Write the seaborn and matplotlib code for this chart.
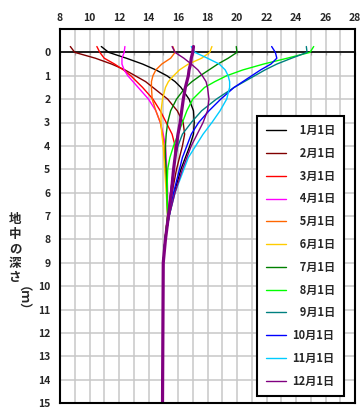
import matplotlib
matplotlib.use("Agg")
import matplotlib.pyplot as plt
import seaborn as sns
import numpy as np
import pandas as pd

# ---- data ----
depths = [-0.25, 0, 0.25, 0.5, 0.75, 1.0, 1.25, 1.5, 2.0, 2.5, 3.0, 3.5, 4.0, 4.5, 5.0, 6.0, 7.0, 8.0, 9.0, 15.0]

labels = ["1月1日", "2月1日", "3月1日", "4月1日", "5月1日", "6月1日",
          "7月1日", "8月1日", "9月1日", "10月1日", "11月1日", "12月1日"]
colors = ["#000000", "#800000", "#FF0000", "#FF00FF", "#FF6600", "#FFCC00",
          "#008000", "#00FF00", "#008080", "#0000FF", "#00CCFF", "#800080"]

jan = [10.8, 11.3, 12.5, 13.6, 14.5, 15.25, 15.8, 16.2, 16.75, 17.05, 17.1, 17.05, 16.8, 16.5, 16.2, 15.75, 15.4, 15.12, 15.0, 14.95]
feb = [8.7, 9.0, 10.4, 11.5, 12.4, 13.1, 13.8, 14.3, 15.3, 15.95, 16.35, 16.45, 16.3, 16.1, 15.9, 15.6, 15.35, 15.12, 15.0, 14.95]
mar = [10.5, 10.7, 11.0, 11.7, 12.3, 12.8, 13.2, 13.6, 14.3, 14.8, 15.2, 15.6, 15.8, 15.8, 15.7, 15.5, 15.3, 15.12, 15.0, 14.95]
apr = [12.4, 12.35, 12.2, 12.2, 12.35, 12.6, 12.95, 13.3, 14.0, 14.5, 14.8, 15.0, 15.15, 15.2, 15.25, 15.3, 15.3, 15.12, 15.0, 14.95]
may = [15.65, 15.8, 15.5, 14.9, 14.5, 14.3, 14.2, 14.2, 14.25, 14.5, 14.8, 14.95, 15.05, 15.1, 15.15, 15.25, 15.3, 15.12, 15.0, 14.95]
jun = [18.3, 18.15, 17.6, 16.7, 16.1, 15.7, 15.35, 15.15, 14.95, 14.85, 14.85, 14.9, 15.0, 15.05, 15.1, 15.2, 15.3, 15.12, 15.0, 14.95]
jul = [19.95, 20.0, 19.4, 18.7, 18.1, 17.5, 16.95, 16.5, 15.9, 15.5, 15.3, 15.2, 15.15, 15.15, 15.2, 15.25, 15.3, 15.12, 15.0, 14.95]
aug = [25.2, 24.95, 23.4, 21.8, 20.4, 19.3, 18.5, 17.8, 17.0, 16.6, 16.3, 16.0, 15.7, 15.45, 15.3, 15.25, 15.3, 15.12, 15.0, 14.95]
sep = [24.7, 24.75, 23.7, 22.7, 21.9, 21.2, 20.5, 19.8, 18.6, 17.6, 16.9, 16.3, 16.0, 15.8, 15.7, 15.5, 15.35, 15.12, 15.0, 14.95]
octo = [22.35, 22.6, 22.7, 22.3, 21.6, 21.0, 20.4, 19.8, 18.9, 18.1, 17.4, 16.9, 16.6, 16.3, 16.1, 15.7, 15.4, 15.12, 15.0, 14.95]
nov = [16.9, 17.15, 18.0, 18.8, 19.2, 19.4, 19.5, 19.5, 19.3, 18.85, 18.3, 17.7, 17.2, 16.7, 16.4, 15.8, 15.4, 15.12, 15.0, 14.95]
dec = [15.6, 15.8, 16.4, 16.9, 17.35, 17.65, 17.9, 18.0, 18.1, 18.0, 17.7, 17.3, 16.9, 16.6, 16.3, 15.8, 15.4, 15.12, 15.0, 14.95]
mean_line = [17.05, 17.0, 16.9, 16.85, 16.75, 16.7, 16.6, 16.5, 16.36, 16.25, 16.15, 16.0, 15.9, 15.8, 15.7, 15.55, 15.35, 15.15, 15.0, 14.95]

series = [jan, feb, mar, apr, may, jun, jul, aug, sep, octo, nov, dec]

x_major = list(range(8, 29, 2))
y_ticks = list(range(0, 16))

# ---- style ----
sns.set_style("white")
plt.rcParams["font.family"] = ["Noto Sans CJK JP", "DejaVu Sans"]

W, H = 361, 407
fig = plt.figure(figsize=(W / 100, H / 100), dpi=100)
ax = fig.add_axes([60 / W, (H - 403) / H, 295 / W, 374 / H])

for vals, lab, col in zip(series, labels, colors):
    df = pd.DataFrame({"temp": vals, "depth": depths})
    sns.lineplot(data=df, x="temp", y="depth", color=col, label=lab,
                 orient="y", sort=False, estimator=None, linewidth=1.0, ax=ax)

dfm = pd.DataFrame({"temp": mean_line, "depth": depths})
sns.lineplot(data=dfm, x="temp", y="depth", color="#800080", label="_nolegend_",
             orient="y", sort=False, estimator=None, linewidth=2.3, ax=ax)

ax.set_xlim(8, 28)
ax.set_ylim(15, -1)
ax.xaxis.tick_top()
ax.set_xticks(x_major)
ax.set_xticks(list(range(8, 29)), minor=True)
ax.set_yticks(y_ticks)
ax.set_yticks(list(range(-1, 16)), minor=True)
ax.set_xticklabels([str(v) for v in x_major], fontsize=7.5, fontweight="bold")
ax.set_yticklabels([str(v) for v in y_ticks], fontsize=7.5, fontweight="bold")
ax.tick_params(axis="both", which="both", length=0)
ax.tick_params(axis="x", pad=4)
ax.tick_params(axis="y", pad=7)
ax.grid(True, which="both", color="#C8C8C8", linewidth=1.1)
ax.set_axisbelow(True)
ax.set_xlabel("")
ax.set_ylabel("")
for s in ax.spines.values():
    s.set_visible(True)
    s.set_color("black")
    s.set_linewidth(1.5)

ax.axhline(0, color="black", linewidth=1.2, zorder=1.5)
sec = ax.secondary_xaxis(15 / 16)
sec.set_xticks(list(range(8, 29)))
sec.tick_params(axis="x", direction="in", length=2, width=0.8, labelbottom=False, labeltop=False)
sec.spines["bottom"].set_visible(False)
sec.spines["top"].set_visible(False)

handles, labs = ax.get_legend_handles_labels()
pairs = [(h, l) for h, l in zip(handles, labs) if l in labels]
disp = [("\u2007" + l if len(l) < 5 else l) for _, l in pairs]
leg = ax.legend([p[0] for p in pairs], disp, loc="lower right",
                bbox_to_anchor=((344 - 60) / 295, (403 - 396) / 374),
                borderaxespad=0, frameon=True, fancybox=False, framealpha=1,
                edgecolor="black", handlelength=1.8,
                handletextpad=0.6, labelspacing=0.88, borderpad=0.75,
                prop={"family": ["Noto Sans CJK JP", "DejaVu Sans"], "size": 8,
                      "weight": "bold"})
leg.get_frame().set_linewidth(1.5)

fig.text(15 / W, 1 - 249 / H, "地\n中\nの\n深\nさ", ha="center", va="center",
         fontsize=9, fontweight="bold", linespacing=1.15)
fig.text(15 / W, 1 - 305 / H, "（ｍ）", ha="center", va="center",
         fontsize=9, fontweight="bold", rotation=270)

fig.savefig("out.png", dpi=100)
